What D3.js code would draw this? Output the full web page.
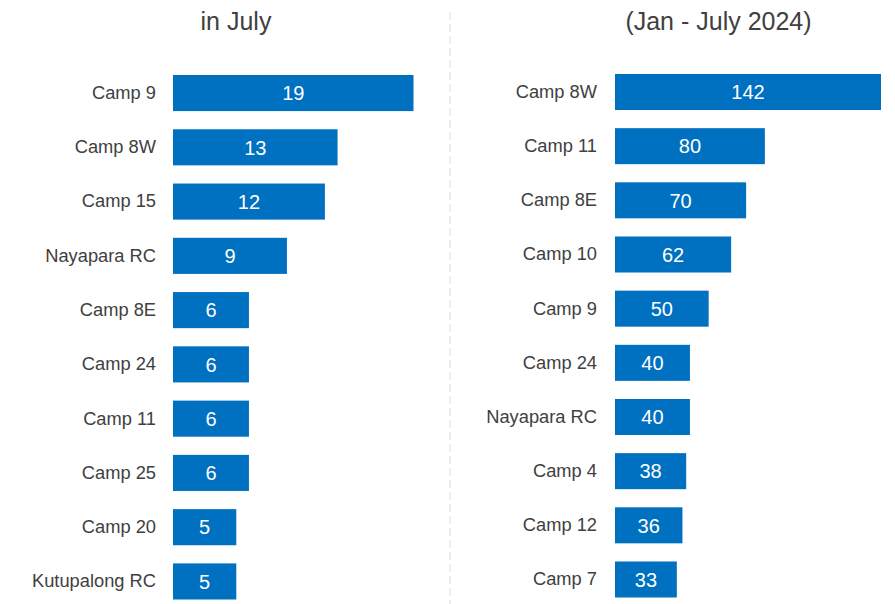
<!DOCTYPE html>
<html>
<head>
<meta charset="utf-8">
<script src="https://cdn.jsdelivr.net/npm/d3@7"></script>
<style>
  html, body { margin: 0; padding: 0; background: #fff; }
  svg { display: block; font-family: "Liberation Sans", Arial, sans-serif; }
</style>
</head>
<body>
<svg id="chart"></svg>
<script>
// Left panel: cases in July
const julyCamps = ["Camp 9", "Camp 8W", "Camp 15", "Nayapara RC", "Camp 8E", "Camp 24", "Camp 11", "Camp 25", "Camp 20", "Kutupalong RC"];
const julyValues = [19, 13, 12, 9, 6, 6, 6, 6, 5, 5];

// Right panel: cumulative Jan - July 2024
const ytdCamps = ["Camp 8W", "Camp 11", "Camp 8E", "Camp 10", "Camp 9", "Camp 24", "Nayapara RC", "Camp 4", "Camp 12", "Camp 7"];
const ytdValues = [142, 80, 70, 62, 50, 40, 40, 38, 36, 33];

const titles = ["in July", "(Jan - July 2024)"];

const width = 895;
const height = 604;
const barColor = "#0070c0";
const textColor = "#404040";

const svg = d3.select("#chart")
    .attr("width", width)
    .attr("height", height);

// dashed divider between the two panels
svg.append("line")
    .attr("x1", 450).attr("x2", 450)
    .attr("y1", 12).attr("y2", height)
    .attr("stroke", "#d9d9d9")
    .attr("stroke-width", 1)
    .attr("stroke-dasharray", "8,4");

function drawPanel(cats, vals, title, opts) {
    const data = cats.map((c, i) => ({ camp: c, value: vals[i] }));

    const y = d3.scaleBand()
        .domain(cats)
        .range([opts.top, opts.bottom])
        .paddingInner(0.335)
        .paddingOuter(0);

    const x = d3.scaleLinear()
        .domain([0, d3.max(vals)])
        .range([opts.left, opts.right]);

    const g = svg.append("g");

    // title
    g.append("text")
        .attr("x", opts.titleX)
        .attr("y", 30)
        .attr("text-anchor", "middle")
        .attr("font-size", "25px")
        .attr("fill", textColor)
        .text(title);

    // bars
    g.selectAll(".bar")
        .data(data)
        .enter()
        .append("rect")
        .attr("class", "bar")
        .attr("x", x(0))
        .attr("y", d => y(d.camp))
        .attr("width", d => x(d.value) - x(0))
        .attr("height", y.bandwidth())
        .attr("fill", barColor);

    // value labels inside the bars
    g.selectAll(".val")
        .data(data)
        .enter()
        .append("text")
        .attr("class", "val")
        .attr("x", d => (x(0) + x(d.value)) / 2)
        .attr("y", d => y(d.camp) + y.bandwidth() / 2)
        .attr("dy", "0.36em")
        .attr("text-anchor", "middle")
        .attr("font-size", "20px")
        .attr("fill", "#fff")
        .text(d => d.value);

    // category axis, no line or ticks
    const axis = g.append("g")
        .attr("transform", `translate(${x(0)}, 0)`)
        .call(d3.axisLeft(y).tickSize(0).tickPadding(opts.pad));
    axis.select(".domain").remove();
    axis.attr("font-family", null);
    axis.selectAll("text")
        .attr("font-size", "18.3px")
        .attr("fill", textColor);
}

drawPanel(julyCamps, julyValues, titles[0], {
    top: 75, bottom: 599.5, left: 173, right: 413.5, titleX: 236, pad: 17
});

drawPanel(ytdCamps, ytdValues, titles[1], {
    top: 74, bottom: 597.5, left: 615, right: 881, titleX: 718.5, pad: 18
});
</script>
</body>
</html>
